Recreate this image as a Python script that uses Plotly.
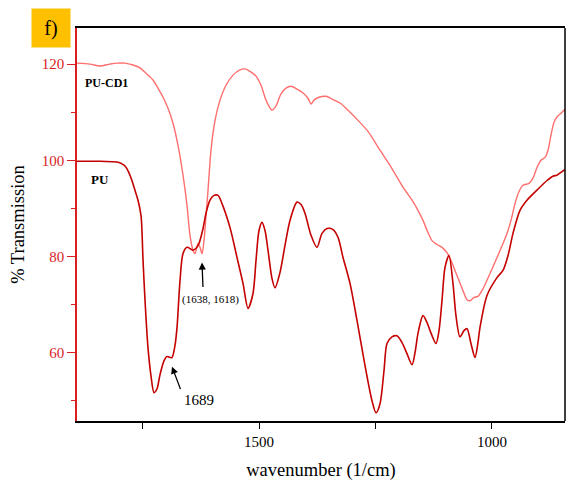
import plotly.graph_objects as go

# FTIR spectra: wavenumber (1/cm) and % transmission
pu_wn = [1890.6, 1841, 1815, 1802.6, 1795, 1787.6, 1780, 1772, 1765, 1759.7, 1753.2, 1748.9, 1744.6,
         1738.2, 1731.8, 1725.3, 1718.9, 1712.5, 1703.9, 1697.4, 1691.0, 1686.7, 1680.3,
         1676.0, 1669.5, 1663.1, 1654.5, 1645.9, 1641.6, 1635.2, 1628.8, 1620.2, 1613.7,
         1605.2, 1596.6, 1588.0, 1579.4, 1562.2, 1547.2, 1534.3, 1523.6, 1512.9, 1506.4,
         1500.0, 1493.6, 1487.1, 1480.7, 1472.1, 1465.7, 1454.9, 1444.2, 1433.5, 1418.5,
         1409.9, 1401.3, 1388.4, 1375.6, 1364.8, 1354.1, 1341.2, 1330.5, 1319.7, 1304.7,
         1289.7, 1272.5, 1257.5, 1248.9, 1240.3, 1231.7, 1225.3, 1214.6, 1203.9, 1193.1,
         1182.4, 1171.6, 1165.2, 1158.8, 1148.1, 1139.5, 1133.0, 1120.2, 1113.7, 1107.3,
         1100.9, 1092.3, 1083.7, 1077.3, 1068.7, 1060.1, 1053.6, 1045.1, 1036.5, 1030.1,
         1025.8, 1010.7, 989.3, 976.4, 965.6, 954.9, 939.9, 924.9, 903.4, 881.9,
         869.1, 860.5, 851.9, 843.3]
pu_t = [99.8, 99.8, 99.7, 99.6, 99.3, 98.8, 97.6, 95.6, 93.4, 91.7, 88.5, 79.2, 70.8,
        61.0, 55.2, 51.7, 52.5, 55.4, 58.3, 59.2, 59.0, 59.0, 61.5,
        65.2, 75.0, 80.6, 81.9, 81.5, 81.3, 81.7, 82.7, 85.8, 89.0,
        91.7, 92.7, 92.7, 91.0, 86.0, 79.8, 74.4, 69.2, 72.3, 79.2,
        85.4, 87.1, 85.4, 81.3, 75.4, 73.5, 76.7, 82.3, 87.5, 91.3,
        90.8, 89.0, 84.4, 81.9, 84.8, 85.8, 85.6, 84.0, 79.8, 74.4,
        66.7, 57.3, 50.0, 47.5, 49.4, 56.3, 61.9, 63.3, 63.5, 62.1,
        59.8, 57.5, 60.0, 64.0, 67.7, 66.3, 64.6, 61.9, 64.6, 70.8,
        77.7, 80.2, 74.4, 67.7, 63.3, 64.6, 65.0, 61.9, 59.0, 62.1,
        65.2, 71.9, 75.6, 77.1, 80.2, 84.8, 89.6, 91.7, 93.8, 95.8,
        96.7, 96.9, 97.5, 98.1]

cd1_wn = [1890.6, 1862.7, 1841.2, 1819.8, 1804.7, 1787.6, 1770.4, 1755.4, 1742.5, 1727.5,
          1716.7, 1706.0, 1695.3, 1684.6, 1673.8, 1663.1, 1654.5, 1648.1, 1641.6, 1637.3,
          1633.1, 1630.9, 1626.6, 1622.3, 1618.0, 1613.7, 1609.4, 1603.0, 1594.4, 1583.7,
          1570.8, 1555.8, 1540.8, 1530.0, 1519.3, 1506.4, 1495.7, 1485.0, 1472.1, 1463.5,
          1452.8, 1442.1, 1431.3, 1418.5, 1405.6, 1394.9, 1388.4, 1382.0, 1371.2, 1356.2,
          1343.3, 1326.2, 1309.0, 1287.5, 1266.1, 1240.3, 1223.2, 1212.4, 1191.0, 1171.6,
          1158.8, 1148.1, 1137.4, 1128.8, 1118.1, 1107.3, 1096.6, 1088.0, 1079.4, 1070.8,
          1062.2, 1053.6, 1047.2, 1038.6, 1030.1, 1019.3, 1006.4, 993.6, 980.7, 967.8,
          959.2, 950.6, 942.0, 933.4, 920.6, 912.0, 903.4, 894.8, 886.2, 879.8,
          873.4, 866.9, 860.5, 851.9, 843.3]
cd1_t = [120.2, 120.0, 119.6, 120.0, 120.2, 120.2, 119.8, 119.2, 118.1, 116.7,
         115.0, 113.1, 110.8, 107.7, 103.1, 96.9, 90.6, 84.4, 81.3, 80.6,
         82.1, 82.7, 81.9, 80.6, 83.3, 88.5, 93.8, 102.1, 108.3, 112.5,
         115.6, 117.7, 118.8, 119.0, 118.5, 117.5, 115.6, 112.5, 110.4, 111.3,
         113.8, 115.0, 115.4, 114.8, 114.0, 112.9, 111.7, 112.5, 113.1, 113.3,
         112.7, 111.9, 110.4, 108.3, 106.0, 102.1, 99.6, 97.9, 94.4, 91.7,
         89.6, 87.5, 85.0, 83.3, 82.5, 81.9, 80.8, 79.2, 77.1, 75.0,
         72.9, 71.0, 70.8, 71.5, 71.7, 73.3, 76.0, 78.8, 81.7, 84.8,
         87.5, 91.0, 93.5, 94.8, 95.2, 96.3, 98.5, 100.0, 100.6, 102.1,
         105.2, 107.9, 109.0, 109.8, 110.6]

x_tick_vals = [1750, 1500, 1250, 1000]
x_tick_text = ["", "1500", "", "1000"]

SERIF = "Liberation Serif, Times New Roman, serif"
DARK_RED = "#c40000"
LIGHT_RED = "#ff6f6f"
AXIS_RED = "#d81e1e"

fig = go.Figure()
fig.add_trace(go.Scatter(x=cd1_wn, y=cd1_t, mode="lines", name="PU-CD1",
                         line=dict(color=LIGHT_RED, width=1.4, shape="spline", smoothing=0.8)))
fig.add_trace(go.Scatter(x=pu_wn, y=pu_t, mode="lines", name="PU",
                         line=dict(color=DARK_RED, width=1.6, shape="spline", smoothing=0.8)))

fig.update_layout(
    width=567, height=486,
    margin=dict(l=77, r=2, t=28, b=65),
    paper_bgcolor="white", plot_bgcolor="white",
    showlegend=False,
    font=dict(family=SERIF, color="black"),
    xaxis=dict(
        range=[1890.6, 843.3], autorange=False,
        tickmode="array", tickvals=x_tick_vals, ticktext=x_tick_text,
        ticks="outside", ticklen=6, tickwidth=1.2, tickcolor="black",
        showline=True, linecolor="black", linewidth=1.5, mirror=True,
        showgrid=False, zeroline=False,
        tickfont=dict(size=15, family=SERIF, color="black"),
        title=dict(text="wavenumber (1/cm)", font=dict(size=18.5, family=SERIF), standoff=14),
    ),
    yaxis=dict(
        range=[45.8, 127.5], autorange=False,
        tick0=0, dtick=20,
        ticks="outside", ticklen=8, tickwidth=1.2, tickcolor=AXIS_RED,
        minor=dict(dtick=10, tick0=0, ticks="outside", ticklen=4, tickcolor=AXIS_RED, tickwidth=1.2),
        showline=True, linecolor=AXIS_RED, linewidth=1.5, mirror=False,
        showgrid=False, zeroline=False,
        tickfont=dict(size=15, family=SERIF, color=AXIS_RED),
        title=dict(text="% Transmission", font=dict(size=18.5, family=SERIF), standoff=12),
    ),
)

# right frame edge in black
fig.add_shape(type="line", xref="paper", yref="paper", x0=1, x1=1, y0=0, y1=1,
              line=dict(color="black", width=1.5))

annotations = [
    dict(text="f)", xref="paper", yref="paper", x=-0.0533, y=0.999,
         showarrow=False, bgcolor="#ffc000", width=36, height=36,
         font=dict(size=20, family=SERIF, color="black"), xanchor="center", yanchor="middle"),
    dict(text="<b>PU-CD1</b>", x=1828, y=116.0, showarrow=False,
         font=dict(size=12, family=SERIF, color="black")),
    dict(text="<b>PU</b>", x=1842, y=96.0, showarrow=False,
         font=dict(size=13, family=SERIF, color="black")),
    dict(text="(1638, 1618)", x=1604, y=71.0, showarrow=False,
         font=dict(size=11, family=SERIF, color="black")),
    dict(text="1689", x=1629, y=50.2, showarrow=False,
         font=dict(size=15, family=SERIF, color="black")),
    # arrows
    dict(text="", x=1686.7, y=57.1, ax=9, ay=24, showarrow=True,
         arrowhead=2, arrowsize=1.1, arrowwidth=1.3, arrowcolor="black"),
    dict(text="", x=1622.3, y=78.75, ax=1, ay=26, showarrow=True,
         arrowhead=2, arrowsize=1.1, arrowwidth=1.3, arrowcolor="black"),
]
fig.update_layout(annotations=annotations)

fig.write_html("out.html")
